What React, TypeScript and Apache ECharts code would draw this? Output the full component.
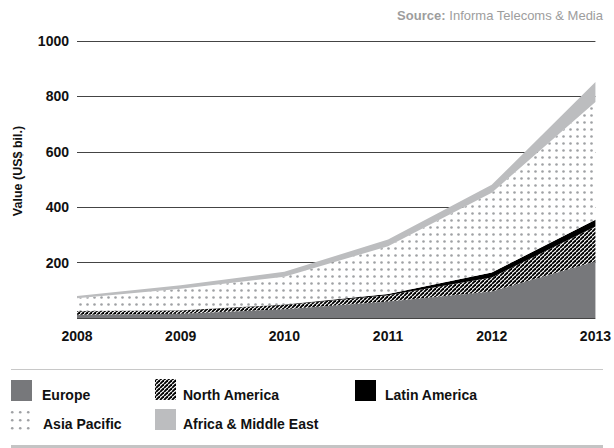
import { useEffect, useRef } from "react";
import * as echarts from "echarts";

const years = ["2008", "2009", "2010", "2011", "2012", "2013"];
const europe = [12, 15, 32, 60, 96, 204];
const northAmerica = [12, 12, 15, 22, 50, 126];
const latinAmerica = [1, 1, 2, 5, 18, 25];
const asiaPacific = [46, 78, 100, 172, 288, 425];
const africaMiddleEast = [8, 12, 18, 24, 29, 72];
const yMin = 0;
const yMax = 1000;
const yStep = 200;

const FONT = "'Liberation Sans', Arial, Helvetica, sans-serif";
const EUROPE_C = "#77787b";
const LATAM_C = "#000000";
const AFRICA_C = "#bcbdbf";
const DOT_C = "#9fa1a4";

function makeHatch(): HTMLCanvasElement {
  const s = 4;
  const c = document.createElement("canvas");
  c.width = s;
  c.height = s;
  const ctx = c.getContext("2d")!;
  ctx.fillStyle = "#ffffff";
  ctx.fillRect(0, 0, s, s);
  ctx.strokeStyle = "#000000";
  ctx.lineWidth = 1.9;
  for (const o of [-s, 0, s]) {
    ctx.beginPath();
    ctx.moveTo(o, s);
    ctx.lineTo(o + s, 0);
    ctx.stroke();
  }
  return c;
}

function makeDots(s: number, r: number): HTMLCanvasElement {
  const c = document.createElement("canvas");
  c.width = s;
  c.height = s;
  const ctx = c.getContext("2d")!;
  ctx.fillStyle = "#ffffff";
  ctx.fillRect(0, 0, s, s);
  ctx.fillStyle = DOT_C;
  ctx.beginPath();
  ctx.arc(s / 2, s / 2, r, 0, Math.PI * 2);
  ctx.fill();
  return c;
}

function pattern(c: HTMLCanvasElement) {
  return { image: c, repeat: "repeat", imageWidth: c.width, imageHeight: c.height };
}

export default function App() {
  const ref = useRef<HTMLDivElement>(null);
  useEffect(() => {
    const chart = echarts.init(ref.current!, null, { renderer: "svg" });
    const hatch = pattern(makeHatch());
    const dots = pattern(makeDots(7, 1.3));
    const legendDots = pattern(makeDots(8.5, 1.3));

    const mk = (name: string, data: number[], fill: any) => ({
      name,
      type: "line",
      stack: "total",
      data,
      symbol: "none",
      showSymbol: false,
      silent: true,
      lineStyle: { width: 0, opacity: 0 },
      areaStyle: { color: fill, opacity: 1 },
      emphasis: { disabled: true },
    });

    const legendText = (text: string, x: number, y: number) => ({
      type: "text",
      x,
      y,
      style: {
        text,
        fill: "#111",
        fontSize: 14,
        fontWeight: "bold",
        fontFamily: FONT,
        verticalAlign: "middle",
        align: "left",
      },
    });
    const swatch = (x: number, y: number, w: number, h: number, fill: any) => ({
      type: "rect",
      shape: { x, y, width: w, height: h },
      style: { fill },
    });

    chart.setOption({
      animation: false,
      grid: { left: 77, right: 11, top: 41, bottom: 130 },
      xAxis: {
        type: "category",
        data: years,
        boundaryGap: false,
        axisLine: { show: false },
        axisTick: { show: false },
        axisLabel: {
          color: "#111",
          fontSize: 14,
          fontWeight: "bold",
          fontFamily: FONT,
          margin: 11,
        },
      },
      yAxis: {
        type: "value",
        min: yMin,
        max: yMax,
        interval: yStep,
        axisLine: { show: false },
        axisTick: { show: false },
        axisLabel: {
          color: "#111",
          fontSize: 14,
          fontWeight: "bold",
          fontFamily: FONT,
          margin: 8,
          formatter: (v: number) => (v === 0 ? "" : String(v)),
        },
        splitLine: { show: true, lineStyle: { color: "#444", width: 1 } },
      },
      series: [
        mk("Europe", europe, EUROPE_C),
        mk("North America", northAmerica, hatch),
        mk("Latin America", latinAmerica, LATAM_C),
        mk("Asia Pacific", asiaPacific, dots),
        mk("Africa & Middle East", africaMiddleEast, AFRICA_C),
      ],
      graphic: [
        {
          type: "text",
          x: 603,
          y: 15,
          style: {
            text: "{b|Source:} Informa Telecoms & Media",
            fill: "#9d9d9d",
            fontSize: 13,
            fontFamily: FONT,
            align: "right",
            verticalAlign: "middle",
            rich: {
              b: { fontWeight: "bold", fontSize: 13, fontFamily: FONT, fill: "#9d9d9d" },
            },
          },
        },
        {
          type: "text",
          x: 17.5,
          y: 171,
          rotation: Math.PI / 2,
          style: {
            text: "Value (US$ bil.)",
            fill: "#111",
            fontSize: 12.5,
            fontWeight: "bold",
            fontFamily: FONT,
            align: "center",
            verticalAlign: "middle",
          },
        },
        {
          type: "line",
          shape: { x1: 11, y1: 369.5, x2: 603, y2: 369.5 },
          style: { stroke: "#c8c8c8", lineWidth: 1 },
        },
        {
          type: "rect",
          shape: { x: 11, y: 445, width: 592, height: 3 },
          style: { fill: "#c4c4c4" },
        },
        swatch(11, 380, 21, 21, EUROPE_C),
        legendText("Europe", 42, 395),
        swatch(155, 379, 21, 21, hatch),
        legendText("North America", 183, 395),
        swatch(355, 380, 21, 21, LATAM_C),
        legendText("Latin America", 385, 395),
        swatch(8.5, 407.5, 25.5, 25.5, legendDots),
        legendText("Asia Pacific", 43, 424),
        swatch(155, 409, 21, 21, AFRICA_C),
        legendText("Africa & Middle East", 183, 424),
      ],
    });
    return () => chart.dispose();
  }, []);
  return (
    <div
      ref={ref}
      style={{ position: "absolute", left: 0, top: 0, width: 614, height: 448 }}
    />
  );
}
